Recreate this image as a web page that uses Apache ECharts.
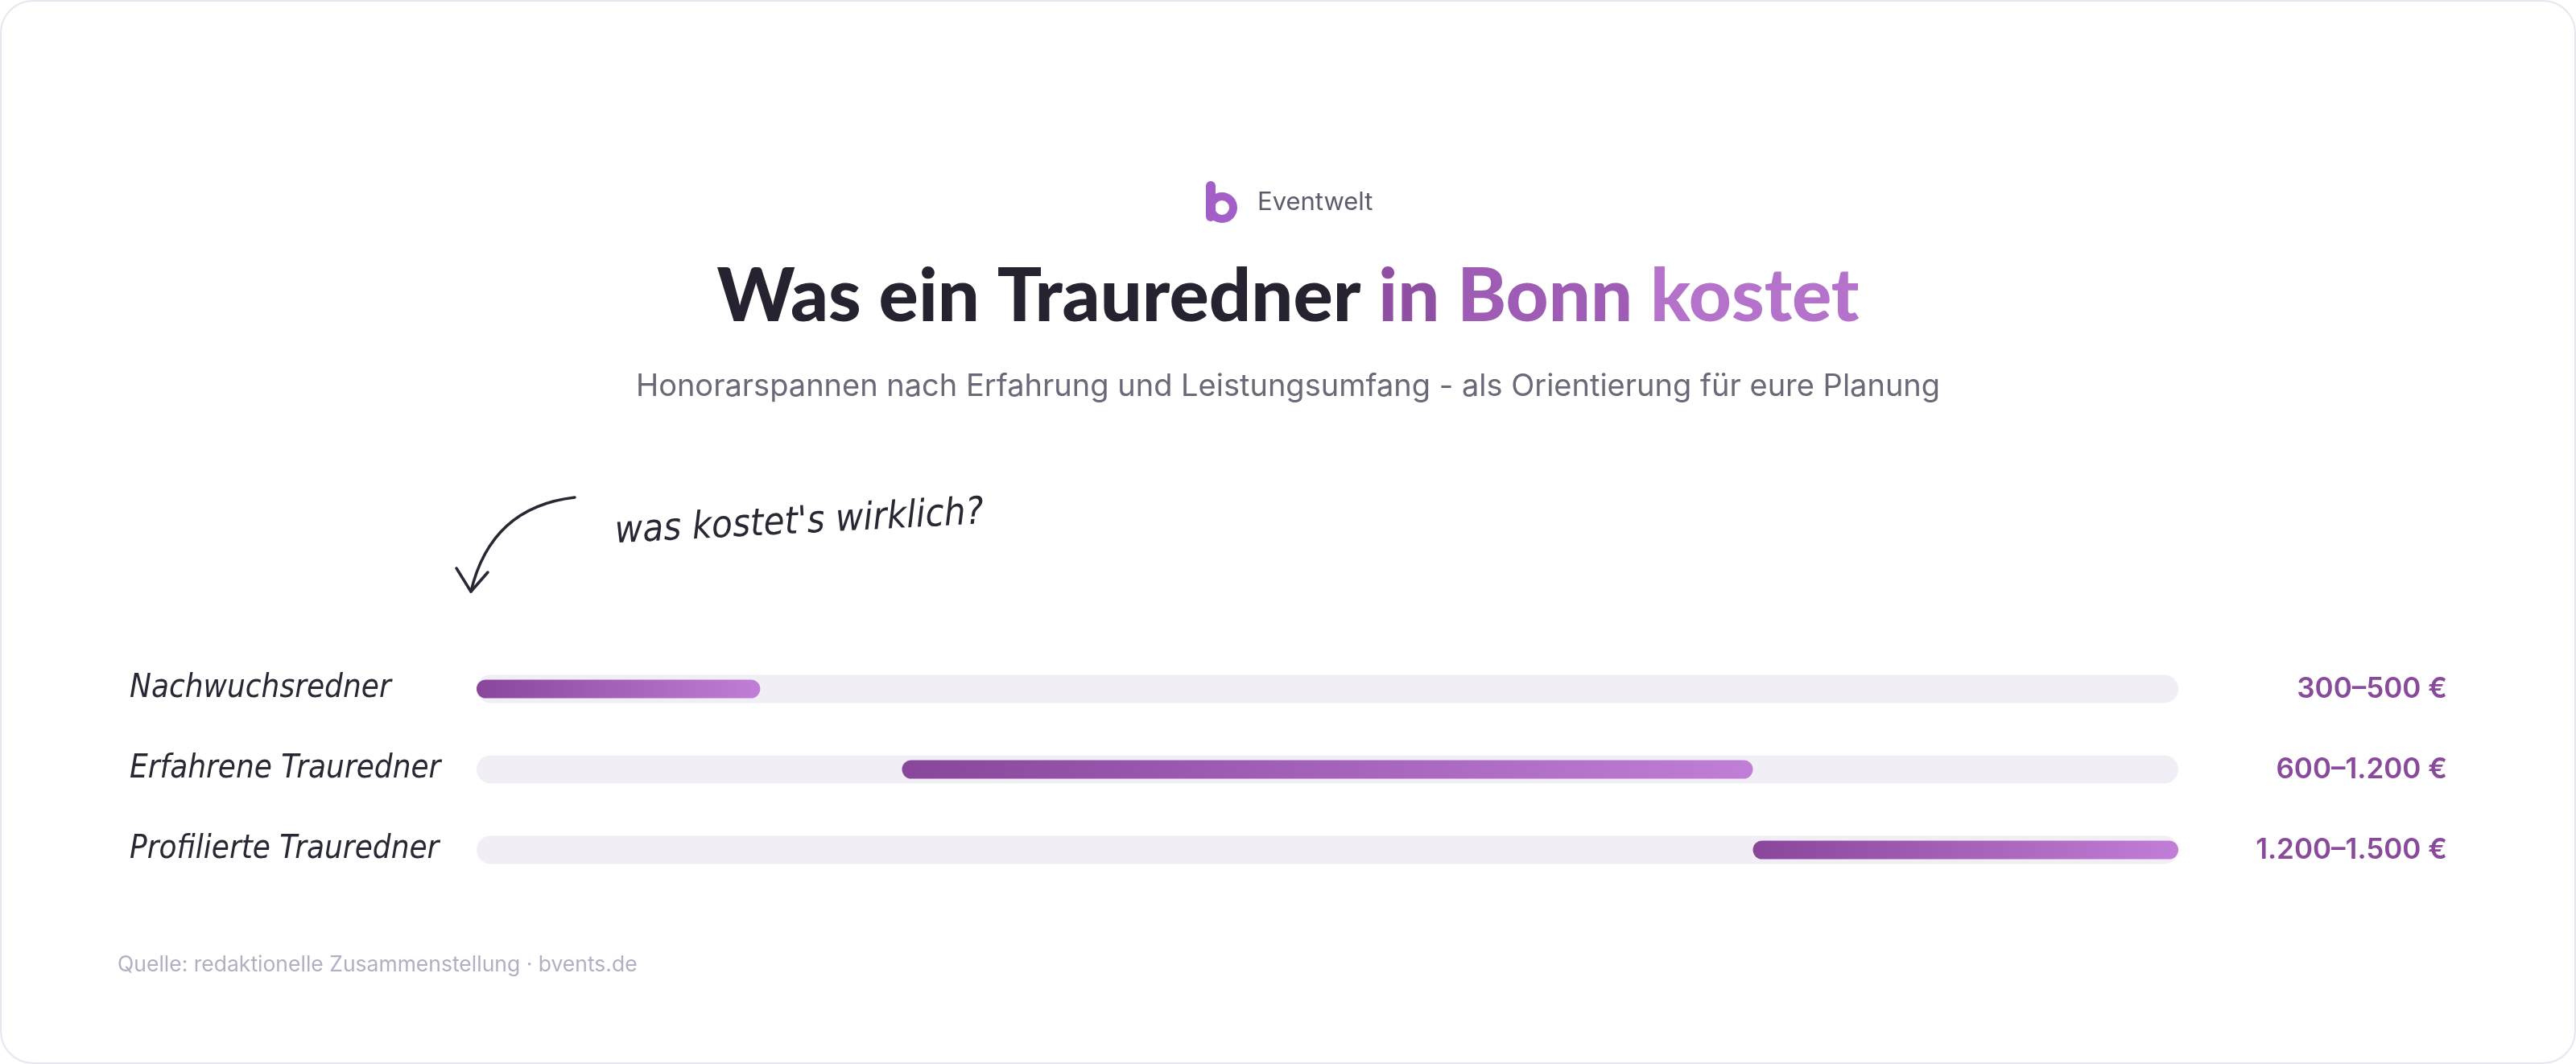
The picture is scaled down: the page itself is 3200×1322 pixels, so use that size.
<!DOCTYPE html>
<html><head><meta charset="utf-8">
<script src="https://cdn.jsdelivr.net/npm/echarts@6/dist/echarts.min.js"></script>
<style>html,body{margin:0;padding:0;background:#fff;}#c{width:3200px;height:1322px;}</style>
</head><body><div id="c"></div>
<script>
const categories = ['Nachwuchsredner', 'Erfahrene Trauredner', 'Profilierte Trauredner'];
const lowValues = [300, 600, 1200];
const highValues = [500, 1200, 1500];
const rangeLabels = ['300–500 €', '600–1.200 €', '1.200–1.500 €'];
const axisMin = 300;
const axisMax = 1500;

const handFont = "'DejaVu Sans Condensed', 'DejaVu Sans', sans-serif";
const sansFont = "Inter, 'Noto Sans', sans-serif";

const trackData = categories.map((c, i) => [i, axisMin, axisMax]);
const barData = categories.map((c, i) => [i, lowValues[i], highValues[i]]);

function makeRender(h, fillFn) {
  return function (params, api) {
    const cat = api.value(0);
    const p0 = api.coord([api.value(1), cat]);
    const p1 = api.coord([api.value(2), cat]);
    return {
      type: 'rect',
      shape: { x: p0[0], y: p0[1] - h / 2, width: p1[0] - p0[0], height: h, r: h / 2 },
      style: { fill: fillFn() }
    };
  };
}

const T = 92;
const chart = echarts.init(document.getElementById('c'), null, { renderer: 'canvas' });
chart.setOption({
  backgroundColor: '#ffffff',
  animation: false,
  grid: { left: 592, right: 494, top: 806, bottom: 216 },
  xAxis: { type: 'value', min: axisMin, max: axisMax, show: false },
  yAxis: [
    {
      type: 'category', data: categories, inverse: true,
      axisLine: { show: false }, axisTick: { show: false }, splitLine: { show: false },
      axisLabel: {
        align: 'left', margin: 431, fontFamily: handFont, fontStyle: 'italic',
        fontSize: 40, color: '#2a2633'
      }
    },
    {
      type: 'category', data: categories, inverse: true, position: 'right',
      axisLine: { show: false }, axisTick: { show: false }, splitLine: { show: false },
      axisLabel: {
        align: 'right', margin: 334, fontFamily: sansFont, fontWeight: 600,
        fontSize: 35, color: '#8a4a9c',
        formatter: (v, i) => rangeLabels[i]
      }
    }
  ],
  series: [
    {
      type: 'custom', yAxisIndex: 0, encode: { x: [1, 2], y: 0 },
      data: trackData, silent: true,
      renderItem: makeRender(35, () => '#f1eef6')
    },
    {
      type: 'custom', yAxisIndex: 0, encode: { x: [1, 2], y: 0 },
      data: barData, silent: true,
      renderItem: makeRender(23, () => new echarts.graphic.LinearGradient(0, 0, 1, 0, [
        { offset: 0, color: '#88479b' }, { offset: 1, color: '#c07ed6' }
      ]))
    }
  ],
  graphic: [
    { type: 'rect', z: -10, shape: { x: 1, y: 1, width: 3198, height: 1320, r: 40 },
      style: { fill: '#ffffff', stroke: '#e7e5ef', lineWidth: 2 } },
    // logo
    { type: 'rect', shape: { x: 1498, y: 225, width: 12, height: 50, r: 6 }, style: { fill: '#a45ec8' } },
    { type: 'ring', shape: { cx: 1518, cy: 258, r: 19, r0: 9 }, style: { fill: '#a45ec8' } },
    { type: 'text', x: 1562, y: 252, style: { text: 'Eventwelt', fontFamily: sansFont, fontSize: 31,
      fill: '#5f5b6c', verticalAlign: 'middle', align: 'left' } },
    // title
    { type: 'text', x: 1600, y: 369, style: {
      text: '{a|Was ein Trauredner} {b|in} {c|Bonn} {d|kostet}',
      align: 'center', verticalAlign: 'middle', fontFamily: 'Lato', fontWeight: 900, fontSize: T,
      rich: {
        a: { fill: '#27222f', fontFamily: 'Lato', fontWeight: 900, fontSize: T },
        b: { fill: '#8f4fa2', fontFamily: 'Lato', fontWeight: 900, fontSize: T },
        c: { fill: '#9e5cb4', fontFamily: 'Lato', fontWeight: 900, fontSize: T },
        d: { fill: '#b572cb', fontFamily: 'Lato', fontWeight: 900, fontSize: T }
      } } },
    // subtitle
    { type: 'text', x: 1600, y: 481, style: {
      text: 'Honorarspannen nach Erfahrung und Leistungsumfang - als Orientierung für eure Planung',
      align: 'center', verticalAlign: 'middle', fontFamily: sansFont, fontSize: 38, fill: '#6c6878' } },
    // annotation
    { type: 'text', x: 993, y: 650, rotation: 3 * Math.PI / 180, style: {
      text: "was kostet's wirklich?", align: 'center', verticalAlign: 'middle',
      fontFamily: handFont, fontStyle: 'italic', fontSize: 47, fill: '#2a2633' } },
    { type: 'bezierCurve', shape: { x1: 714, y1: 618, cpx1: 610, cpy1: 630, x2: 585, y2: 735 },
      style: { stroke: '#2a2633', lineWidth: 3.5, fill: null, lineCap: 'round' } },
    { type: 'polyline', shape: { points: [[567, 706], [585, 735], [606, 711]] },
      style: { stroke: '#2a2633', lineWidth: 3.5, fill: null, lineCap: 'round', lineJoin: 'round' } },
    // source
    { type: 'text', x: 146, y: 1199, style: {
      text: 'Quelle: redaktionelle Zusammenstellung · bvents.de', align: 'left', verticalAlign: 'middle',
      fontFamily: sansFont, fontSize: 26.5, fill: '#b3aec2' } }
  ]
});
</script></body></html>
